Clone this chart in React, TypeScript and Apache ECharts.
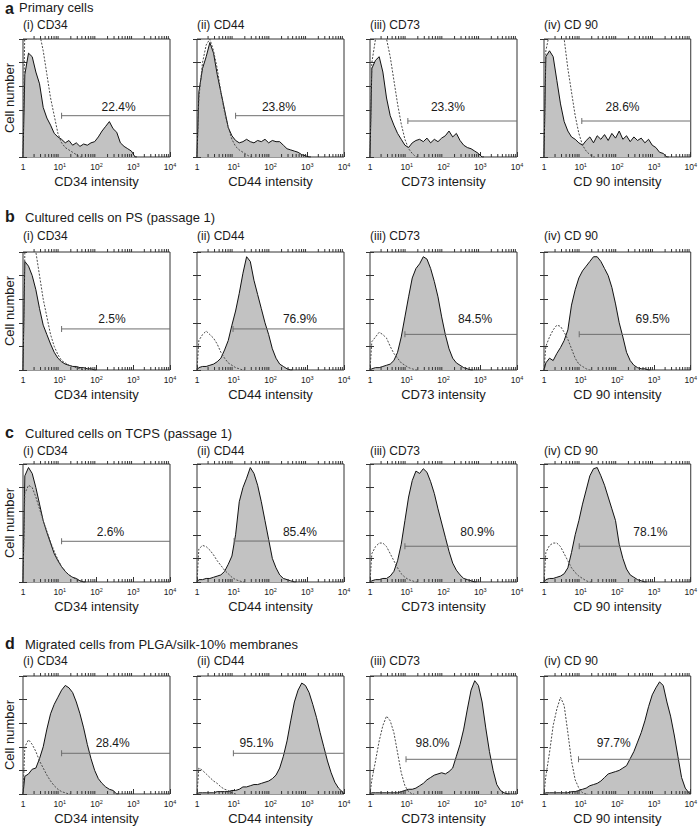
import React, { useEffect, useRef } from "react";
import * as echarts from "echarts";

// ---------- data ----------
const BIN_EDGES = [0, 0.1, 0.2, 0.3, 0.4, 0.5, 0.6, 0.7, 0.8, 0.9, 1, 1.1, 1.2, 1.3, 1.4, 1.5, 1.6, 1.7, 1.8, 1.9, 2, 2.1, 2.2, 2.3, 2.4, 2.5, 2.6, 2.7, 2.8, 2.9, 3, 3.1, 3.2, 3.3, 3.4, 3.5, 3.6, 3.7, 3.8, 3.9, 4];

const ROW_LETTERS = ["a", "b", "c", "d"];
const ROW_TITLES = [
  "Primary cells",
  "Cultured cells on PS (passage 1)",
  "Cultured cells on TCPS (passage 1)",
  "Migrated cells from PLGA/silk-10% membranes",
];
const PANEL_TITLES = ["(i) CD34", "(ii) CD44", "(iii) CD73", "(iv) CD 90"];
const AXIS_NAMES = ["CD34 intensity", "CD44 intensity", "CD73 intensity", "CD 90 intensity"];
const X_TICK_EXPONENTS = [0, 1, 2, 3, 4];
const Y_LABEL = "Cell number";

const PERCENTS = [
  ["22.4%", "23.8%", "23.3%", "28.6%"],
  ["2.5%", "76.9%", "84.5%", "69.5%"],
  ["2.6%", "85.4%", "80.9%", "78.1%"],
  ["28.4%", "95.1%", "98.0%", "97.7%"],
];
const GATE_START = [
  [1.05, 1.05, 1.03, 1.03],
  [1.05, 0.98, 0.95, 0.96],
  [1.05, 1.01, 0.95, 0.96],
  [1.05, 0.99, 0.98, 0.94],
];
const GATE_LEVEL = [
  [35, 35, 30.5, 30.5],
  [34.8, 34.8, 30.2, 30.2],
  [34.5, 34.7, 30.3, 30.3],
  [34.5, 34.5, 29.4, 29.4],
];
const LABEL_X = [
  [2.6, 2.23, 2.12, 2.14],
  [2.42, 2.8, 2.86, 2.96],
  [2.38, 2.8, 2.92, 2.9],
  [2.44, 1.62, 1.7, 1.9],
];
const LABEL_LEVEL = [
  [42, 42, 42, 42],
  [43, 43, 43, 43],
  [42, 42, 42, 42],
  [43, 43, 43, 43],
];

// row a: primary cells
const A_CD34 = [70, 88, 85, 72, 62, 42, 33, 27, 20, 17, 15, 12, 14, 10, 12, 9, 11, 10, 12, 13, 17, 22, 26, 30, 24, 21, 12, 9, 7, 5, 0];
const A_CD34_CTRL = [110, 110, 110, 110, 105, 90, 70, 50, 35, 20, 12, 8, 6, 4, 2, 0];
const A_CD44 = [55, 75, 85, 97, 88, 70, 55, 40, 25, 18, 14, 12, 13, 15, 13, 12, 14, 13, 15, 12, 14, 13, 13, 10, 7, 6, 5, 4, 2, 1, 0];
const A_CD44_CTRL = [50, 80, 95, 100, 90, 75, 55, 38, 25, 15, 9, 6, 4, 2, 0];
const A_CD73 = [75, 82, 85, 72, 50, 35, 27, 20, 15, 10, 8, 12, 14, 15, 13, 16, 12, 15, 13, 16, 18, 22, 17, 20, 14, 10, 8, 7, 5, 3, 0];
const A_CD73_CTRL = [80, 100, 105, 105, 100, 85, 65, 45, 28, 15, 7, 3, 0];
const A_CD90 = [85, 90, 85, 65, 45, 30, 22, 17, 15, 12, 10, 14, 17, 12, 18, 15, 19, 14, 20, 16, 22, 15, 18, 13, 17, 14, 16, 12, 15, 10, 8, 4, 3, 0];
const A_CD90_CTRL = [90, 105, 105, 105, 105, 100, 75, 55, 35, 20, 10, 5, 2, 0];

// row b: cultured on PS
const B_CD34 = [92, 88, 80, 68, 52, 38, 30, 22, 15, 10, 7, 5, 4, 3, 3, 2, 2, 1, 1, 0];
const B_CD34_CTRL = [100, 105, 105, 100, 80, 60, 45, 30, 20, 13, 8, 6, 4, 3, 2, 1, 0];
const B_CD44 = [2, 3, 3, 4, 5, 7, 10, 17, 25, 38, 50, 65, 82, 96, 92, 76, 64, 52, 40, 30, 18, 10, 5, 3, 1, 0];
const B_CD44_CTRL = [25, 30, 33, 30, 27, 22, 15, 10, 6, 4, 2, 1, 0];
const B_CD73 = [1, 2, 2, 3, 4, 5, 8, 15, 28, 45, 62, 78, 86, 90, 96, 94, 86, 75, 62, 45, 30, 18, 10, 6, 4, 2, 1, 0];
const B_CD73_CTRL = [24, 28, 32, 30, 27, 20, 14, 10, 6, 4, 2, 1, 0];
const B_CD90 = [6, 10, 8, 14, 19, 25, 34, 55, 68, 78, 84, 88, 92, 96, 96, 92, 86, 80, 70, 56, 40, 28, 15, 8, 4, 2, 1, 1, 0];
const B_CD90_CTRL = [20, 28, 34, 38, 37, 32, 26, 18, 10, 5, 3, 1, 0];

// row c: cultured on TCPS
const C_CD34 = [90, 97, 92, 80, 66, 52, 42, 33, 24, 18, 13, 9, 6, 4, 3, 1, 0];
const C_CD34_CTRL = [75, 82, 80, 72, 62, 52, 43, 34, 26, 19, 13, 9, 6, 4, 2, 1, 0];
const C_CD44 = [2, 2, 3, 3, 4, 5, 6, 9, 15, 22, 40, 68, 80, 88, 97, 92, 82, 68, 52, 36, 20, 12, 6, 3, 2, 1, 0];
const C_CD44_CTRL = [28, 31, 30, 27, 23, 18, 14, 10, 7, 4, 2, 1, 0];
const C_CD73 = [1, 2, 2, 3, 3, 5, 9, 18, 32, 52, 72, 86, 94, 92, 96, 93, 85, 75, 62, 50, 38, 26, 16, 10, 6, 3, 2, 1, 0];
const C_CD73_CTRL = [24, 30, 33, 33, 30, 24, 18, 12, 7, 4, 2, 1, 0];
const C_CD90 = [2, 3, 3, 4, 5, 7, 12, 25, 40, 52, 66, 78, 90, 96, 97, 90, 82, 72, 62, 52, 32, 20, 11, 6, 4, 2, 1, 0];
const C_CD90_CTRL = [25, 31, 33, 33, 30, 24, 18, 12, 8, 5, 3, 1, 0];

// row d: migrated cells
const D_CD34 = [15, 17, 21, 22, 30, 40, 55, 68, 76, 82, 88, 92, 90, 86, 78, 68, 56, 42, 30, 20, 13, 9, 6, 4, 3, 0];
const D_CD34_CTRL = [40, 46, 42, 36, 28, 22, 16, 11, 7, 4, 2, 1, 0];
const D_CD44 = [1, 1, 1, 1, 1, 2, 2, 2, 2, 3, 3, 4, 6, 6, 7, 8, 8, 9, 10, 11, 13, 16, 22, 32, 45, 62, 78, 88, 94, 92, 86, 76, 65, 52, 40, 28, 18, 10, 5, 2];
const D_CD44_CTRL = [22, 20, 17, 14, 11, 9, 6, 4, 3, 1, 0];
const D_CD73 = [1, 1, 1, 1, 1, 1, 1, 1, 2, 3, 4, 4, 5, 7, 9, 12, 14, 16, 17, 18, 17, 19, 22, 32, 42, 55, 72, 88, 96, 92, 78, 56, 36, 20, 8, 3, 1, 0];
const D_CD73_CTRL = [12, 28, 45, 58, 66, 62, 52, 35, 18, 7, 2, 0];
const D_CD90 = [1, 1, 1, 1, 1, 1, 1, 2, 2, 3, 4, 5, 7, 8, 9, 11, 14, 17, 18, 19, 20, 22, 24, 30, 36, 44, 52, 62, 74, 84, 90, 95, 92, 78, 66, 50, 32, 14, 5, 1];
const D_CD90_CTRL = [15, 35, 58, 72, 82, 75, 52, 28, 12, 5, 1, 0];

const SAMPLES = [
  [A_CD34, A_CD44, A_CD73, A_CD90],
  [B_CD34, B_CD44, B_CD73, B_CD90],
  [C_CD34, C_CD44, C_CD73, C_CD90],
  [D_CD34, D_CD44, D_CD73, D_CD90],
];
const CONTROLS = [
  [A_CD34_CTRL, A_CD44_CTRL, A_CD73_CTRL, A_CD90_CTRL],
  [B_CD34_CTRL, B_CD44_CTRL, B_CD73_CTRL, B_CD90_CTRL],
  [C_CD34_CTRL, C_CD44_CTRL, C_CD73_CTRL, C_CD90_CTRL],
  [D_CD34_CTRL, D_CD44_CTRL, D_CD73_CTRL, D_CD90_CTRL],
];

// ---------- layout ----------
const COL_LEFT = [23, 197, 370, 544];
const ROW_TOP = [39, 252, 464, 676];
const PLOT_W = 147;
const PLOT_H = 118;
const HEAD_Y = [7.5, 217.8, 433.7, 644.7];
const LETTER_Y = [8.5, 216.3, 432.2, 643.2];
const SUB_Y = [24.5, 236.3, 450.8, 661.3];
const FONT = "'Liberation Sans', Arial, Helvetica, sans-serif";
const INK = "#1a1a1a";

// points at bin centres, closed to the baseline at both ends
function histPoints(vals: number[]) {
  const pts: number[][] = [[BIN_EDGES[0], 0]];
  vals.forEach((v, i) => pts.push([(BIN_EDGES[i] + BIN_EDGES[i + 1]) / 2, v]));
  pts.push([BIN_EDGES[vals.length], 0]);
  return pts;
}

function minorTickPositions() {
  const out: number[][] = [];
  for (let d = 0; d < 4; d++) {
    for (let k = 2; k <= 9; k++) out.push([d + Math.log10(k), 0]);
  }
  return out;
}

function buildOption() {
  const grid: any[] = [];
  const xAxis: any[] = [];
  const yAxis: any[] = [];
  const series: any[] = [];
  const graphic: any[] = [];
  const minor = minorTickPositions();

  for (let r = 0; r < 4; r++) {
    graphic.push({
      type: "text",
      x: 5,
      y: LETTER_Y[r],
      style: { text: ROW_LETTERS[r], fontSize: 16, fontWeight: "bold", fontFamily: FONT, fill: INK, verticalAlign: "middle", align: "left" },
    });
    graphic.push({
      type: "text",
      x: r === 0 ? 19 : 25,
      y: HEAD_Y[r],
      style: { text: ROW_TITLES[r], fontSize: 13, fontFamily: FONT, fill: INK, verticalAlign: "middle", align: "left" },
    });
    graphic.push({
      type: "text",
      x: 9,
      y: ROW_TOP[r] + PLOT_H / 2,
      rotation: Math.PI / 2,
      style: { text: Y_LABEL, fontSize: 13, fontFamily: FONT, fill: INK, verticalAlign: "middle", align: "center" },
    });

    for (let c = 0; c < 4; c++) {
      const idx = r * 4 + c;
      graphic.push({
        type: "text",
        x: COL_LEFT[c],
        y: SUB_Y[r],
        style: { text: PANEL_TITLES[c], fontSize: 12, fontFamily: FONT, fill: INK, verticalAlign: "middle", align: "left" },
      });
      grid.push({
        left: COL_LEFT[c],
        top: ROW_TOP[r],
        width: PLOT_W,
        height: PLOT_H,
        show: true,
        borderColor: "#333",
        borderWidth: 1,
        backgroundColor: "transparent",
      });
      xAxis.push({
        gridIndex: idx,
        type: "value",
        min: 0,
        max: 4,
        interval: 1,
        position: "bottom",
        axisLine: { show: false },
        axisTick: { inside: true, length: 5, lineStyle: { color: "#333", width: 1 } },
        splitLine: { show: false },
        axisLabel: {
          margin: 5,
          formatter: (v: number) => (v === X_TICK_EXPONENTS[0] ? "{b|1}" : `{b|10}{s|${v}}`),
          rich: {
            b: { fontSize: 8.5, fontFamily: FONT, color: INK },
            s: { fontSize: 5.5, fontFamily: FONT, color: INK, verticalAlign: "top" },
          },
        },
        name: AXIS_NAMES[c],
        nameLocation: "middle",
        nameGap: 18,
        nameTextStyle: { fontSize: 13, fontFamily: FONT, color: INK, verticalAlign: "top" },
      });
      xAxis.push({
        gridIndex: idx,
        type: "value",
        min: 0,
        max: 4,
        interval: 1,
        position: "top",
        axisLine: { show: false },
        axisTick: { inside: false, length: 5, lineStyle: { color: "#333", width: 1 } },
        splitLine: { show: false },
        axisLabel: { show: false },
      });
      yAxis.push({
        gridIndex: idx,
        type: "value",
        min: 0,
        max: 100,
        interval: 20,
        position: "left",
        axisLine: { show: false },
        axisTick: { inside: false, length: 4, lineStyle: { color: "#333", width: 1 } },
        splitLine: { show: false },
        axisLabel: { show: false },
      });
      yAxis.push({
        gridIndex: idx,
        type: "value",
        min: 0,
        max: 100,
        interval: 20,
        position: "right",
        axisLine: { show: false },
        axisTick: { inside: false, length: 4, lineStyle: { color: "#333", width: 1 } },
        splitLine: { show: false },
        axisLabel: { show: false },
      });

      const xi = idx * 2;
      const yi = idx * 2;
      series.push({
        type: "line",
        xAxisIndex: xi,
        yAxisIndex: yi,
        symbol: "none",
        clip: true,
        z: 2,
        data: histPoints(SAMPLES[r][c]),
        lineStyle: { color: "#111", width: 1 },
        areaStyle: { color: "#c2c2c2", opacity: 1 },
      });
      series.push({
        type: "line",
        xAxisIndex: xi,
        yAxisIndex: yi,
        symbol: "none",
        clip: true,
        z: 3,
        data: histPoints(CONTROLS[r][c]),
        lineStyle: { color: "#4a4a4a", width: 1, type: [2, 1.5] },
      });
      series.push({
        type: "line",
        xAxisIndex: xi,
        yAxisIndex: yi,
        z: 4,
        clip: false,
        showSymbol: true,
        data: [
          { value: [GATE_START[r][c], GATE_LEVEL[r][c]], symbol: "rect", symbolSize: [1, 6] },
          { value: [4, GATE_LEVEL[r][c]], symbol: "none" },
        ],
        lineStyle: { color: "#6e6e6e", width: 1 },
        itemStyle: { color: "#6e6e6e" },
      });
      series.push({
        type: "scatter",
        xAxisIndex: xi,
        yAxisIndex: yi,
        z: 5,
        symbolSize: 1,
        itemStyle: { color: "rgba(255,255,255,0)", opacity: 1 },
        data: [[LABEL_X[r][c], LABEL_LEVEL[r][c]]],
        label: {
          show: true,
          position: "inside",
          formatter: PERCENTS[r][c],
          fontSize: 12,
          fontFamily: FONT,
          color: INK,
          opacity: 1,
        },
      });
      series.push({
        type: "custom",
        xAxisIndex: xi,
        yAxisIndex: yi,
        z: 6,
        clip: false,
        data: minor,
        renderItem: (params: any, api: any) => {
          const v = api.value(0);
          const b = api.coord([v, 0]);
          const t = api.coord([v, 100]);
          return {
            type: "group",
            children: [
              { type: "line", shape: { x1: b[0], y1: b[1], x2: b[0], y2: b[1] - 3 }, style: { stroke: "#333", lineWidth: 1 } },
              { type: "line", shape: { x1: t[0], y1: t[1], x2: t[0], y2: t[1] - 3 }, style: { stroke: "#333", lineWidth: 1 } },
            ],
          };
        },
      });
    }
  }

  return {
    animation: false,
    backgroundColor: "#ffffff",
    textStyle: { fontFamily: FONT },
    grid,
    xAxis,
    yAxis,
    series,
    graphic,
  };
}

export default function App() {
  const ref = useRef<HTMLDivElement>(null);
  useEffect(() => {
    if (!ref.current) return;
    const chart = echarts.init(ref.current, null, { renderer: "svg" });
    chart.setOption(buildOption() as any);
    return () => chart.dispose();
  }, []);
  return (
    <div
      ref={ref}
      style={{ position: "absolute", left: 0, top: 0, width: 700, height: 829, background: "#fff" }}
    />
  );
}
